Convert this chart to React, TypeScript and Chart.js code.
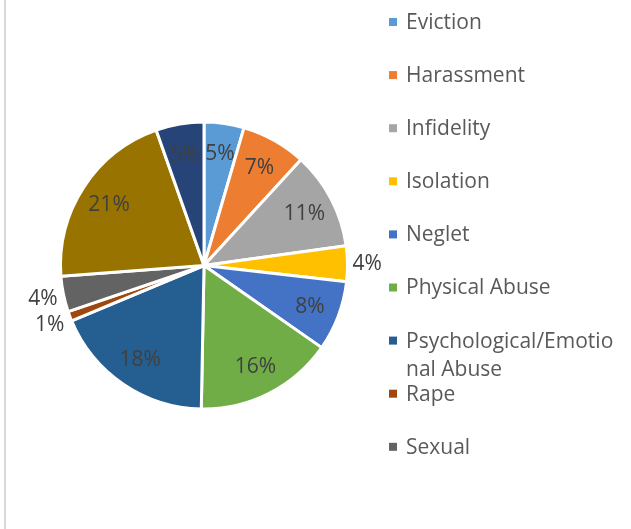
import React, { useEffect, useRef } from "react";
import { Chart, registerables } from "chart.js";

Chart.register(...registerables);

const categories = [
  "Eviction",
  "Harassment",
  "Infidelity",
  "Isolation",
  "Neglet",
  "Physical Abuse",
  "Psychological/Emotional Abuse",
  "Rape",
  "Sexual",
  "Verbal Abuse",
  "Other",
];
// shares
const values = [4.5, 7.3, 11, 4, 7.9, 15.6, 18.4, 1.1, 4, 20.8, 5.4];
// labels as printed on the chart
const pctLabels = ["5%", "7%", "11%", "4%", "8%", "16%", "18%", "1%", "4%", "21%", "5%"];
const colors = [
  "#5B9BD5",
  "#ED7D31",
  "#A5A5A5",
  "#FFC000",
  "#4472C4",
  "#70AD47",
  "#255E91",
  "#9E480E",
  "#636363",
  "#997300",
  "#264478",
];
// legend entries visible in the picture (the legend is clipped after "Sexual")
const legendLines = [
  ["Eviction"],
  ["Harassment"],
  ["Infidelity"],
  ["Isolation"],
  ["Neglet"],
  ["Physical Abuse"],
  ["Psychological/Emotio", "nal Abuse"],
  ["Rape"],
  ["Sexual"],
];

const FONT = '21px "Open Sans", sans-serif';

const labelPlugin = {
  id: "pctLabels",
  afterDatasetsDraw(chart: any) {
    const ctx = chart.ctx;
    const meta = chart.getDatasetMeta(0);
    ctx.save();
    ctx.font = FONT;
    ctx.textAlign = "center";
    ctx.textBaseline = "middle";
    meta.data.forEach((arc: any, i: number) => {
      const p = arc.getProps(["x", "y", "startAngle", "endAngle", "outerRadius"], true);
      const mid = (p.startAngle + p.endAngle) / 2;
      const text = pctLabels[i];
      const span = p.endAngle - p.startAngle;
      let r: number;
      ctx.fillStyle = "#404040";
      if (span > 0.27) {
        r = p.outerRadius * 0.79;
      } else {
        const w = ctx.measureText(text).width;
        const h = 15;
        r = p.outerRadius + 5 + (w / 2) * Math.abs(Math.cos(mid)) + (h / 2) * Math.abs(Math.sin(mid));
      }
      ctx.fillText(text, p.x + r * Math.cos(mid), p.y + r * Math.sin(mid) + 1);
    });
    ctx.restore();
  },
};

const legendPlugin = {
  id: "sideLegend",
  afterDraw(chart: any) {
    const ctx = chart.ctx;
    const bg = chart.data.datasets[0].backgroundColor as string[];
    ctx.save();
    ctx.font = FONT;
    ctx.textAlign = "left";
    ctx.textBaseline = "middle";
    const y0 = 22;
    const step = 53.1;
    legendLines.forEach((lines, i) => {
      const y = y0 + i * step;
      ctx.fillStyle = bg[i];
      ctx.fillRect(389, y - 4, 8, 8);
      ctx.fillStyle = "#595959";
      lines.forEach((ln, j) => {
        ctx.fillText(ln, 406, y + 1 + j * 28);
      });
    });
    ctx.restore();
  },
};

export default function App() {
  const ref = useRef<HTMLCanvasElement | null>(null);
  useEffect(() => {
    if (!ref.current) return;
    const chart = new Chart(ref.current, {
      type: "pie",
      data: {
        labels: categories,
        datasets: [
          {
            data: values,
            backgroundColor: colors,
            borderColor: "#ffffff",
            borderWidth: 3,
          },
        ],
      },
      options: {
        animation: false,
        responsive: false,
        maintainAspectRatio: false,
        layout: { padding: { left: 59, right: 282, top: 120, bottom: 118 } },
        plugins: {
          legend: { display: false },
          tooltip: { enabled: false },
        },
      },
      plugins: [labelPlugin, legendPlugin],
    });
    return () => chart.destroy();
  }, []);
  return (
    <div style={{ position: "absolute", left: 0, top: 0, width: 631, height: 529, background: "#fff" }}>
      <div style={{ position: "absolute", left: 4, top: 0, width: 2, height: 529, background: "#D9D9D9" }} />
      <canvas ref={ref} width={631} height={529} style={{ position: "absolute", left: 0, top: 0 }} />
    </div>
  );
}
